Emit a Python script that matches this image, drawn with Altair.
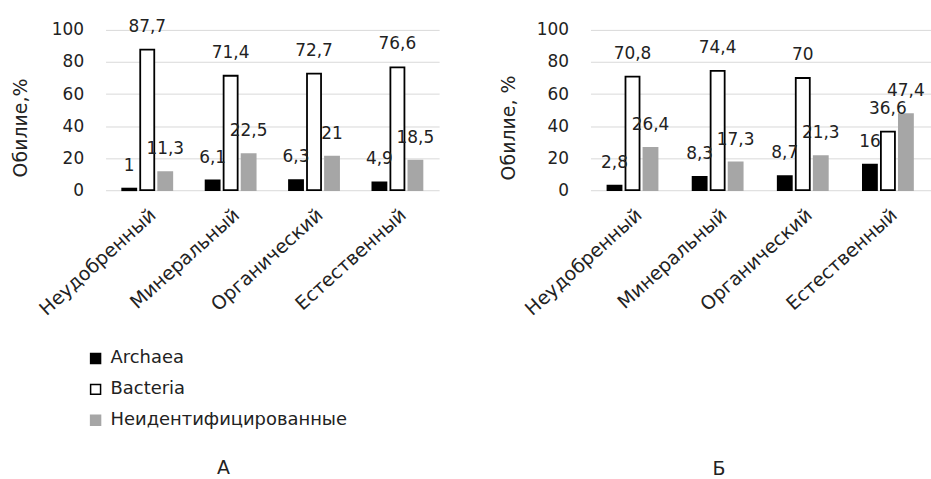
import altair as alt
import pandas as pd

# Fertilisation variants (x categories) and taxonomic groups (series)
categories = ["Неудобренный", "Минеральный", "Органический", "Естественный"]
series = ["Archaea", "Bacteria", "Неидентифицированные"]

# Panel А
a_archaea = [1, 6.1, 6.3, 4.9]
a_bacteria = [87.7, 71.4, 72.7, 76.6]
a_unident = [11.3, 22.5, 21, 18.5]

# Panel Б
b_archaea = [2.8, 8.3, 8.7, 16]
b_bacteria = [70.8, 74.4, 70, 36.6]
b_unident = [26.4, 17.3, 21.3, 47.4]

y_ticks = [0, 20, 40, 60, 80, 100]

FONT = "DejaVu Sans"
TEXT = "#222222"
FILLS = ["#000000", "#ffffff", "#a6a6a6"]
STROKES = ["#000000", "#000000", "#a6a6a6"]


def frame(arch, bact, unid):
    rows = []
    for i, cat in enumerate(categories):
        for s, v in zip(series, (arch[i], bact[i], unid[i])):
            rows.append({
                "cat": cat,
                "series": s,
                "value": v,
                "label": f"{v:g}".replace(".", ","),
            })
    return pd.DataFrame(rows)


def panel(df, ytitle, title_x, width, show_legend, caption, caption_dx,
          caption_offset):
    x = alt.X(
        "cat:N", sort=categories, title=None,
        scale=alt.Scale(paddingInner=0.4, paddingOuter=0.2),
        axis=alt.Axis(labelAngle=-42, labelFontSize=19, labelFont=FONT,
                      labelColor=TEXT, labelPadding=15, ticks=False,
                      domain=False, grid=False),
    )
    xo = alt.XOffset("series:N", sort=series,
                     scale=alt.Scale(domain=series, paddingInner=0.22))
    y = alt.Y(
        "value:Q", scale=alt.Scale(domain=[0, 100], nice=False),
        axis=alt.Axis(values=y_ticks, title=ytitle, titleFont=FONT,
                      titleFontSize=19, titleFontWeight="normal",
                      titleColor=TEXT, titleX=title_x, titleY=98,
                      labelFont=FONT, labelFontSize=17, labelColor=TEXT,
                      labelPadding=22, ticks=False, domain=False,
                      grid=True, gridColor="#d9d9d9", gridWidth=1),
    )
    if show_legend:
        legend = alt.Legend(
            title=None, orient="none", legendX=-19, legendY=321,
            direction="vertical", symbolType="square", symbolSize=100,
            symbolStrokeWidth=1.5, labelFont=FONT, labelFontSize=18,
            labelColor=TEXT, labelOffset=6, rowPadding=13, labelLimit=0,
        )
    else:
        legend = None
    fill = alt.Fill("series:N", sort=series,
                    scale=alt.Scale(domain=series, range=FILLS), legend=legend)
    stroke = alt.Stroke("series:N", sort=series,
                        scale=alt.Scale(domain=series, range=STROKES),
                        legend=legend)

    bars = alt.Chart(df).mark_bar(strokeWidth=1.8).encode(
        x=x, xOffset=xo, y=y, fill=fill, stroke=stroke
    )
    labels = alt.Chart(df).mark_text(
        dy=-18, baseline="alphabetic", fontSize=17, font=FONT, color=TEXT
    ).encode(x=x, xOffset=xo, y=y, text="label:N")

    return alt.layer(bars, labels).properties(
        width=width, height=161,
        title=alt.TitleParams(caption, orient="bottom", anchor="middle",
                              dx=caption_dx, offset=caption_offset,
                              fontSize=19, font=FONT, fontWeight="normal",
                              color=TEXT),
    )


left = panel(frame(a_archaea, a_bacteria, a_unident), "Обилие,%", -75, 335,
             True, "А", -49, 30)
right = panel(frame(b_archaea, b_bacteria, b_unident), "Обилие, %", -72, 342,
              False, "Б", -42, 142)

chart = (
    alt.hconcat(left, right, spacing=60)
    .resolve_scale(fill="independent", stroke="independent")
    .properties(padding={"left": 11, "top": 16, "right": 0, "bottom": 0},
                background="white")
    .configure_view(stroke=None)
)

chart.save("out.html", embed_options={"renderer": "svg", "actions": False})
